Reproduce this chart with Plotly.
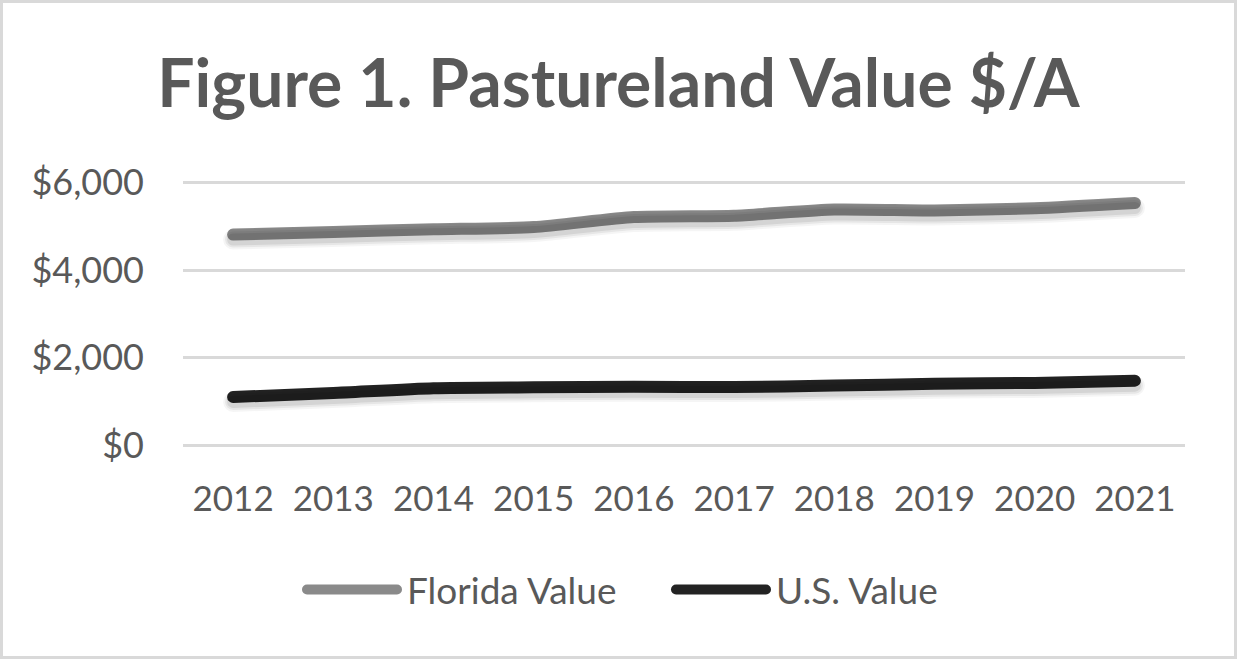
import plotly.graph_objects as go

years = ["2012", "2013", "2014", "2015", "2016", "2017", "2018", "2019", "2020", "2021"]
florida_value = [4810, 4870, 4930, 4980, 5210, 5240, 5380, 5360, 5410, 5530]
us_value = [1110, 1200, 1310, 1330, 1340, 1335, 1370, 1410, 1430, 1480]
y_ticks = [0, 2000, 4000, 6000]
y_tick_labels = ["$0", "$2,000", "$4,000", "$6,000"]

FONT = "Lato"
TEXT = "#595959"
FL_COLOR = "#8a8a8a"
US_COLOR = "#232323"

W, H = 1237, 659
y_lo, y_hi = -30, 6030
px_per_unit = 264 / 6000
T = round(182 - (y_hi - 6000) * px_per_unit)
B = round(H - 446 - (0 - y_lo) * px_per_unit)
L, R = 183, 52
plot_w = W - L - R
plot_h = H - T - B
shadow_px = 5
shift = shadow_px / px_per_unit

fig = go.Figure()

# soft shadows (same data, drawn on an overlaid axis shifted a few px down)
for vals in (florida_value, us_value):
    for w, a in ((20, 0.04), (16, 0.06), (12, 0.08)):
        fig.add_trace(go.Scatter(
            x=years, y=vals, mode="lines", yaxis="y2", showlegend=False,
            hoverinfo="skip",
            line=dict(color=f"rgba(0,0,0,{a})", width=w, shape="spline", smoothing=0.6),
        ))

fig.add_trace(go.Scatter(
    x=years, y=florida_value, mode="lines", name="Florida Value",
    line=dict(color=FL_COLOR, width=12, shape="spline", smoothing=0.6),
))
fig.add_trace(go.Scatter(
    x=years, y=us_value, mode="lines", name="U.S. Value",
    line=dict(color=US_COLOR, width=12, shape="spline", smoothing=0.6),
))

ITEMW = 95
fig.update_layout(
    width=W, height=H,
    margin=dict(l=L, r=R, t=T, b=B),
    paper_bgcolor="white", plot_bgcolor="white",
    font=dict(family=FONT, color=TEXT, size=35),
    title=dict(
        text="<b>Figure 1. Pastureland Value $/A</b>",
        x=0.5, xref="container", xanchor="center",
        y=1 - 84 / H, yref="container", yanchor="middle",
        font=dict(family=FONT, size=66, color=TEXT),
    ),
    xaxis=dict(
        type="category", range=[-0.5, 9.5], showgrid=False, zeroline=False,
        showline=False, ticks="", ticklabelstandoff=28,
        tickfont=dict(family=FONT, size=35, color=TEXT),
    ),
    yaxis=dict(
        range=[y_lo, y_hi], tickvals=y_ticks, ticktext=y_tick_labels,
        showgrid=True, gridcolor="#d9d9d9", gridwidth=2.5, zeroline=False,
        showline=False, ticks="", ticklabelstandoff=38,
        tickfont=dict(family=FONT, size=36, color=TEXT),
    ),
    yaxis2=dict(
        range=[y_lo + shift, y_hi + shift], overlaying="y", visible=False,
        showgrid=False,
    ),
    legend=dict(
        orientation="h", xref="paper", x=(302 - L) / plot_w, xanchor="left",
        y=-(590 - (H - B)) / plot_h, yanchor="middle",
        font=dict(family=FONT, size=37, color=TEXT),
        itemwidth=ITEMW, entrywidth=370 - ITEMW - 16, entrywidthmode="pixels",
        traceorder="normal",
    ),
    showlegend=True,
    shapes=[dict(
        type="rect", xref="paper", yref="paper",
        x0=(1.5 - L) / plot_w, x1=(W - 1.5 - L) / plot_w,
        y0=-(B - 1.5) / plot_h, y1=1 + (T - 1.5) / plot_h,
        line=dict(color="#d9d9d9", width=3), layer="above",
    )],
)

post = (
    "document.body.style.margin='0';"
    "document.querySelectorAll('path.js-line').forEach(function(p){"
    "p.style.strokeLinecap='round';});"
    "document.querySelectorAll('.legend .legendlines path').forEach(function(p){"
    "p.setAttribute('d','M5,0h" + str(ITEMW - 5) + "');});"
)

fig.write_html("out.html", post_script=post, config={"displayModeBar": False})
